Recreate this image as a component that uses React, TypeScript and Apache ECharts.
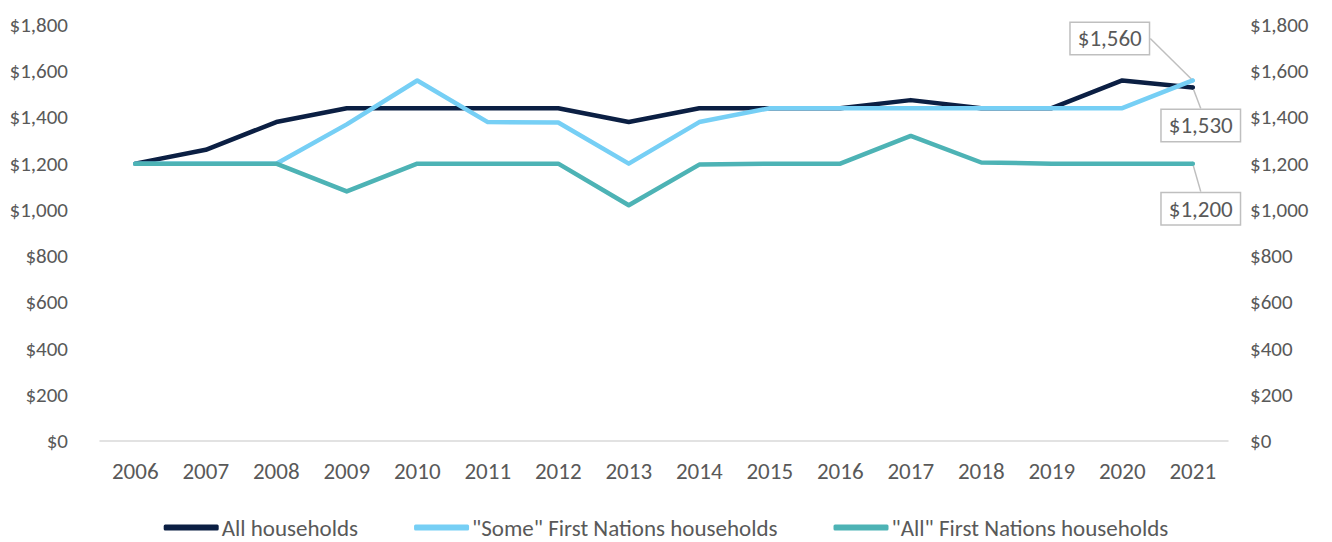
import React, { useEffect, useRef } from "react";
import * as echarts from "echarts";

const years = ["2006","2007","2008","2009","2010","2011","2012","2013","2014","2015","2016","2017","2018","2019","2020","2021"];
const allHouseholds = [1200,1260,1380,1440,1440,1440,1440,1380,1440,1440,1440,1475,1440,1440,1560,1530];
const someFN = [1200,1200,1200,1370,1560,1380,1378,1200,1380,1440,1440,1440,1440,1440,1440,1560];
const allFN = [1200,1200,1200,1080,1200,1200,1200,1020,1196,1200,1200,1320,1205,1200,1200,1200];
const seriesNames = ["All households", "\"Some\" First Nations households", "\"All\" First Nations households"];
const colors = ["#0b1f43", "#76cff5", "#4db3b5"];
const labelOffsets = [[8, 38], [-83, -42], [8, 45]];

const FONT = "Carlito, Calibri, Lato, sans-serif";
const fmt = (v: number) => "$" + v.toLocaleString("en-US");

export default function App() {
  const ref = useRef<HTMLDivElement>(null);
  useEffect(() => {
    if (!ref.current) return;
    const chart = echarts.init(ref.current, null, { renderer: "svg" });
    const datasets = [allHouseholds, someFN, allFN];
    const series = datasets.map((d, i) => ({
      name: seriesNames[i],
      type: "line",
      data: d.map((v, j) =>
        j === d.length - 1
          ? {
              value: v,
              label: {
                show: true,
                position: "inside",
                formatter: (p: any) => fmt(p.value),
                fontFamily: FONT,
                fontSize: 23,
                color: "#595959",
                backgroundColor: "#ffffff",
                borderColor: "#bfbfbf",
                borderWidth: 1.5,
                padding: [5, 7, 3, 7],
              },
            }
          : v
      ),
      symbol: "circle",
      showSymbol: true,
      symbolSize: (_v: any, p: any) => (p.dataIndex === d.length - 1 ? 4 : 0),
      lineStyle: { width: 4.5, color: colors[i], cap: "round", join: "round" },
      itemStyle: { color: colors[i] },
      z: i === 2 ? 3 : i === 1 ? 2 : 1,
      label: { show: false },
      labelLayout: (p: any) =>
        p.dataIndex === d.length - 1 ? { dx: labelOffsets[i][0], dy: labelOffsets[i][1] } : {},
      labelLine: { show: true, lineStyle: { color: "#bfbfbf", width: 1.5 } },
      emphasis: { disabled: true },
    }));
    const axisLabel = { color: "#595959", fontFamily: FONT, fontSize: 21, formatter: (v: number) => fmt(v) };
    chart.setOption({
      animation: false,
      color: colors,
      grid: { left: 100, right: 104, top: 25, bottom: 101, containLabel: false },
      legend: {
        top: 511,
        left: "center",
        padding: 5,
        itemWidth: 55,
        itemHeight: 6,
        itemGap: 56,
        icon: "roundRect",
        textStyle: { color: "#595959", fontFamily: FONT, fontSize: 23, padding: [0, 0, 0, -2] },
        data: seriesNames.map((n, i) => ({ name: n, itemStyle: { color: colors[i] } })),
      },
      xAxis: {
        type: "category",
        data: years,
        boundaryGap: true,
        axisLine: { lineStyle: { color: "#d9d9d9", width: 1.5 } },
        axisTick: { show: false },
        axisLabel: { color: "#595959", fontFamily: FONT, fontSize: 23, margin: 18 },
      },
      yAxis: [
        {
          type: "value",
          min: 0,
          max: 1800,
          interval: 200,
          splitLine: { show: false },
          axisLine: { show: false },
          axisTick: { show: false },
          axisLabel: { ...axisLabel, margin: 32 },
        },
        {
          type: "value",
          position: "right",
          min: 0,
          max: 1800,
          interval: 200,
          splitLine: { show: false },
          axisLine: { show: false },
          axisTick: { show: false },
          axisLabel: { ...axisLabel, margin: 22 },
        },
      ],
      series,
    });
    return () => chart.dispose();
  }, []);
  return (
    <div
      ref={ref}
      style={{ position: "fixed", left: 0, top: 0, width: 1332, height: 542, background: "#ffffff" }}
    />
  );
}
